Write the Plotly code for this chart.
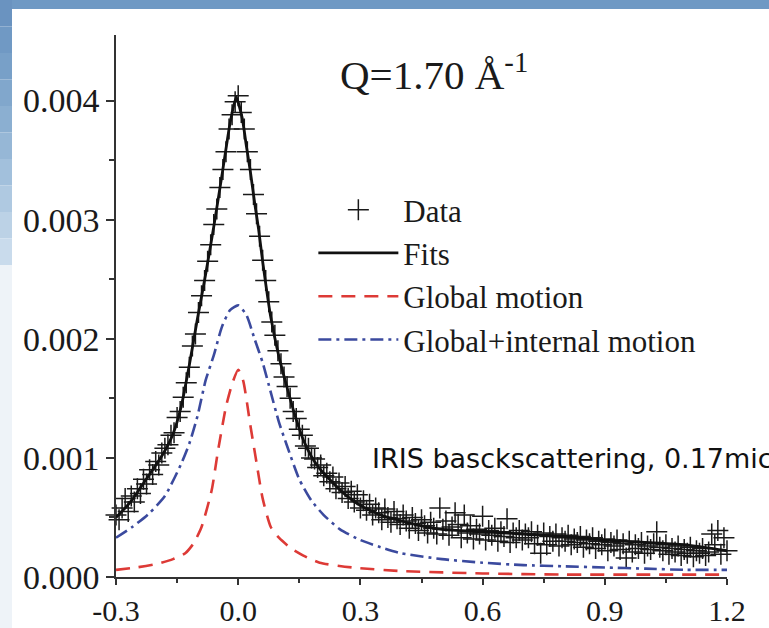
import plotly.graph_objects as go

# ---------------- data ----------------
data_x = [-0.3000,-0.2925,-0.2850,-0.2775,-0.2700,-0.2625,-0.2550,-0.2475,-0.2400,-0.2325,
          -0.2250,-0.2175,-0.2100,-0.2025,-0.1950,-0.1875,-0.1800,-0.1725,-0.1650,-0.1575,
          -0.1500,-0.1425,-0.1350,-0.1275,-0.1200,-0.1125,-0.1050,-0.0975,-0.0900,-0.0825,
          -0.0750,-0.0675,-0.0600,-0.0525,-0.0450,-0.0375,-0.0300,-0.0225,-0.0150,-0.0075,
          0.0000,0.0075,0.0150,0.0225,0.0300,0.0375,0.0450,0.0525,0.0600,0.0675,
          0.0750,0.0825,0.0900,0.0975,0.1050,0.1125,0.1200,0.1275,0.1350,0.1425,
          0.1500,0.1575,0.1650,0.1725,0.1800,0.1875,0.1950,0.2025,0.2100,0.2175,
          0.2250,0.2325,0.2400,0.2475,0.2550,0.2625,0.2700,0.2775,0.2850,0.2925,
          0.3000,0.3075,0.3150,0.3225,0.3300,0.3375,0.3450,0.3525,0.3600,0.3675,
          0.3750,0.3825,0.3900,0.3975,0.4050,0.4125,0.4200,0.4275,0.4350,0.4425,
          0.4500,0.4575,0.4650,0.4725,0.4800,0.4875,0.4950,0.5025,0.5100,0.5175,
          0.5250,0.5325,0.5400,0.5475,0.5550,0.5625,0.5700,0.5775,0.5850,0.5925,
          0.6000,0.6075,0.6150,0.6225,0.6300,0.6375,0.6450,0.6525,0.6600,0.6675,
          0.6750,0.6825,0.6900,0.6975,0.7050,0.7125,0.7200,0.7275,0.7350,0.7425,
          0.7500,0.7575,0.7650,0.7725,0.7800,0.7875,0.7950,0.8025,0.8100,0.8175,
          0.8250,0.8325,0.8400,0.8475,0.8550,0.8625,0.8700,0.8775,0.8850,0.8925,
          0.9000,0.9075,0.9150,0.9225,0.9300,0.9375,0.9450,0.9525,0.9600,0.9675,
          0.9750,0.9825,0.9900,0.9975,1.0050,1.0125,1.0200,1.0275,1.0350,1.0425,
          1.0500,1.0575,1.0650,1.0725,1.0800,1.0875,1.0950,1.1025,1.1100,1.1175,
          1.1250,1.1325,1.1400,1.1475,1.1550,1.1625,1.1700,1.1775,1.1850,1.1925,
          1.2000]
data_y = [0.00052,0.00048,0.00058,0.00066,0.00055,0.00068,0.00063,0.00074,0.00070,0.00082,
          0.00078,0.00090,0.00086,0.00097,0.00094,0.00104,0.00108,0.00111,0.00119,0.00121,
          0.00134,0.00139,0.00151,0.00163,0.00176,0.00194,0.00204,0.00222,0.00236,0.00249,
          0.00265,0.00279,0.00296,0.00309,0.00327,0.00342,0.00357,0.00376,0.00388,0.00399,
          0.00404,0.00390,0.00376,0.00357,0.00342,0.00321,0.00305,0.00286,0.00266,0.00249,
          0.00231,0.00214,0.00203,0.00190,0.00179,0.00168,0.00160,0.00150,0.00139,0.00133,
          0.00124,0.00119,0.00110,0.00108,0.00100,0.00099,0.00092,0.00094,0.00085,0.00087,
          0.00080,0.00084,0.00074,0.00079,0.00071,0.00076,0.00066,0.00072,0.00063,0.00069,
          0.00058,0.00064,0.00056,0.00061,0.00052,0.00058,0.00054,0.00048,0.00057,0.00050,
          0.00046,0.00055,0.00049,0.00044,0.00052,0.00047,0.00041,0.00050,0.00045,0.00039,
          0.00048,0.00043,0.00037,0.00046,0.00041,0.00036,0.00058,0.00040,0.00047,0.00035,
          0.00042,0.00054,0.00044,0.00033,0.00052,0.00037,0.00043,0.00032,0.00040,0.00036,
          0.00051,0.00031,0.00039,0.00035,0.00041,0.00030,0.00038,0.00034,0.00049,0.00029,
          0.00037,0.00033,0.00039,0.00031,0.00036,0.00033,0.00038,0.00028,0.00035,0.00020,
          0.00037,0.00027,0.00034,0.00030,0.00036,0.00026,0.00033,0.00030,0.00035,0.00027,
          0.00032,0.00029,0.00034,0.00025,0.00031,0.00028,0.00033,0.00024,0.00030,0.00027,
          0.00032,0.00022,0.00029,0.00026,0.00031,0.00023,0.00028,0.00016,0.00030,0.00021,
          0.00027,0.00024,0.00029,0.00020,0.00026,0.00023,0.00028,0.00038,0.00025,0.00022,
          0.00027,0.00019,0.00024,0.00021,0.00026,0.00018,0.00023,0.00020,0.00025,0.00017,
          0.00022,0.00020,0.00024,0.00018,0.00021,0.00036,0.00027,0.00039,0.00019,0.00033,
          0.00022]

fit_x = [-0.30,-0.28,-0.26,-0.24,-0.22,-0.20,-0.18,-0.16,-0.14,-0.12,-0.10,-0.08,-0.06,-0.04,
         -0.02,-0.005,0.01,0.02,0.03,0.04,0.05,0.06,0.08,0.10,0.12,0.14,0.16,0.18,0.20,0.23,
         0.26,0.30,0.35,0.40,0.45,0.50,0.60,0.70,0.80,0.90,1.00,1.10,1.20]
fit_y = [0.00050,0.00057,0.00065,0.00075,0.00085,0.00095,0.00106,0.00120,0.00143,0.00178,
         0.00217,0.00254,0.00294,0.00337,0.00381,0.00403,0.00385,0.00362,0.00340,0.00315,
         0.00292,0.00265,0.00218,0.00185,0.00159,0.00135,0.00115,0.00101,0.00091,0.00080,
         0.00070,0.00060,0.00052,0.00047,0.00043,0.00040,0.00038,0.00036,0.00034,0.00031,
         0.00029,0.00027,0.00022]

glob_x = [-0.30,-0.25,-0.20,-0.16,-0.13,-0.11,-0.09,-0.065,-0.05,-0.03,-0.015,0.00,0.012,
          0.03,0.045,0.06,0.08,0.10,0.13,0.16,0.20,0.28,0.40,0.60,0.80,1.00,1.20]
glob_y = [0.00006,0.00008,0.00011,0.00015,0.00020,0.00028,0.00042,0.00073,0.00105,0.00143,
          0.00162,0.00174,0.00165,0.00127,0.00096,0.00066,0.00042,0.00033,0.00024,0.00018,
          0.00012,0.00008,0.00005,0.00003,0.00002,0.00002,0.00002]

gi_x = [-0.30,-0.26,-0.22,-0.18,-0.14,-0.12,-0.10,-0.08,-0.06,-0.04,-0.02,0.00,0.02,0.04,
        0.06,0.08,0.10,0.12,0.15,0.18,0.21,0.25,0.30,0.35,0.40,0.50,0.60,0.70,0.80,0.90,
        1.00,1.10,1.20]
gi_y = [0.00033,0.00042,0.00053,0.00068,0.00095,0.00112,0.00135,0.00165,0.00186,0.00210,
        0.00224,0.00228,0.00220,0.00200,0.00180,0.00155,0.00130,0.00110,0.00082,0.00064,
        0.00052,0.00040,0.00031,0.00025,0.00020,0.00015,0.00012,0.00010,0.00009,0.00008,
        0.00007,0.00006,0.00006]

x_ticks = [-0.3, 0.0, 0.3, 0.6, 0.9, 1.2]
y_ticks = [0.000, 0.001, 0.002, 0.003, 0.004]

SERIF = "Liberation Serif, Times New Roman, serif"
PLOT_W, PLOT_H, L, T = 611, 542, 116, 35

fig = go.Figure()
fig.add_trace(go.Scatter(x=data_x, y=data_y, mode="markers", name="Data",
                         marker=dict(symbol="cross-thin", size=15, color="#1a1a1a",
                                     line=dict(color="#1a1a1a", width=1.5)),
                         cliponaxis=False))
fig.add_trace(go.Scatter(x=fit_x, y=fit_y, mode="lines", name="Fits",
                         line=dict(color="#111", width=2.8, shape="spline", smoothing=0.5),
                         cliponaxis=False))
fig.add_trace(go.Scatter(x=glob_x, y=glob_y, mode="lines", name="Global motion",
                         line=dict(color="#dd3a36", width=2.6, dash="14px,9px",
                                   shape="spline", smoothing=0.6),
                         cliponaxis=False))
fig.add_trace(go.Scatter(x=gi_x, y=gi_y, mode="lines", name="Global+internal motion",
                         line=dict(color="#3b4a9e", width=2.6, dash="13px,5px,3px,5px",
                                   shape="spline", smoothing=0.6),
                         cliponaxis=False))

# background decoration (slide frame)
def px_x(p):
    return (p - L) / PLOT_W

def px_y(p):
    return (T + PLOT_H - p) / PLOT_H

shapes = [dict(type="rect", xref="paper", yref="paper", x0=px_x(0), x1=px_x(769),
               y0=px_y(9), y1=px_y(0), fillcolor="#6f99c4", line_width=0, layer="below")]
blues = ["#6a93c0", "#7099c4", "#78a0c8", "#81a7cc", "#8bafd1", "#96b7d6", "#a2c0dc",
         "#afc9e1", "#bcd2e6", "#c9dbec"]
step = 265 / len(blues)
for i, c in enumerate(blues):
    shapes.append(dict(type="rect", xref="paper", yref="paper", x0=px_x(0), x1=px_x(12),
                       y0=px_y((i + 1) * step), y1=px_y(i * step),
                       fillcolor=c, line_width=0, layer="below"))
shapes.append(dict(type="rect", xref="paper", yref="paper", x0=px_x(0), x1=px_x(12),
                   y0=px_y(628), y1=px_y(265), fillcolor="#eef3f8", line_width=0,
                   layer="below"))

fig.update_layout(
    width=769, height=628,
    margin=dict(l=L, r=769 - L - PLOT_W, t=T, b=628 - T - PLOT_H, autoexpand=False),
    paper_bgcolor="white", plot_bgcolor="white",
    shapes=shapes,
    showlegend=True,
    legend=dict(x=0.323, y=px_y(183), xanchor="left", yanchor="top",
                font=dict(family=SERIF, size=31, color="#1a1a1a"),
                itemwidth=80, tracegroupgap=0, bgcolor="rgba(0,0,0,0)"),
    annotations=[
        dict(text="Q=1.70 Å<sup>-1</sup>", x=px_x(338), y=px_y(72), xref="paper",
             yref="paper", xanchor="left", yanchor="middle", showarrow=False,
             font=dict(family=SERIF, size=41, color="#1a1a1a")),
        dict(text="IRIS basckscattering, 0.17mic", x=px_x(370), y=px_y(458),
             xref="paper", yref="paper", xanchor="left", yanchor="middle", showarrow=False,
             font=dict(family="DejaVu Sans, Verdana, sans-serif", size=27, color="#111")),
    ],
)
fig.update_xaxes(range=[-0.3, 1.2], tickvals=x_ticks, ticktext=[f"{v:.1f}" for v in x_ticks],
                 automargin=False,
                 showline=True, linecolor="#333", linewidth=1.6, showgrid=False, zeroline=False,
                 ticks="outside", ticklen=6, tickwidth=1.5, tickcolor="#333",
                 tickfont=dict(family=SERIF, size=30, color="#1a1a1a"),
                 minor=dict(tickvals=[-0.15, 0.15, 0.45, 0.75, 1.05], ticks="outside",
                            ticklen=4, tickwidth=1.5, tickcolor="#333"))
fig.update_yaxes(range=[0, 0.00455], tickvals=y_ticks, ticktext=[f"{v:.3f}" for v in y_ticks],
                 automargin=False,
                 showline=True, linecolor="#333", linewidth=1.6, showgrid=False, zeroline=False,
                 ticks="outside", ticklen=8, tickwidth=1.5, tickcolor="#333",
                 tickfont=dict(family=SERIF, size=34, color="#1a1a1a"),
                 minor=dict(tickvals=[0.0005, 0.0015, 0.0025, 0.0035], ticks="outside",
                            ticklen=5, tickwidth=1.5, tickcolor="#333"))

fig.write_html("out.html", config={"displayModeBar": False},
               post_script="document.body.style.margin='0';document.body.style.overflow='hidden';")
